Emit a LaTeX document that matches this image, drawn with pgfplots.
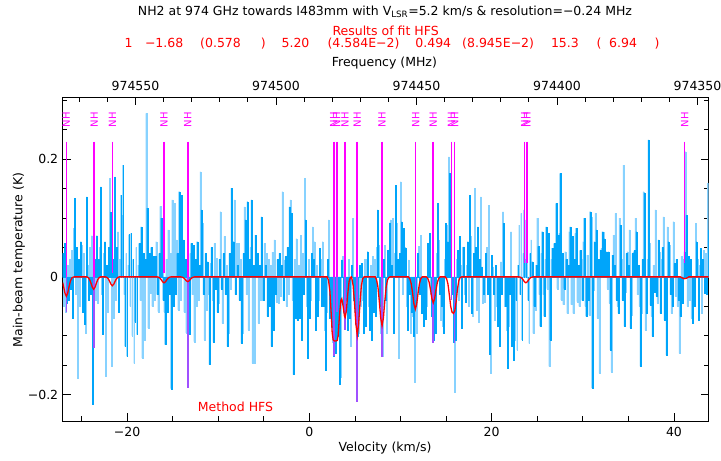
\documentclass[border=0pt]{standalone}
\usepackage{fontspec}
\setmainfont{DejaVu Sans}
\usepackage{pgfplots}
\pgfplotsset{compat=1.18}
\usepackage{pgfplotstable}
\definecolor{specdark}{RGB}{0,165,250}
\definecolor{speclight}{RGB}{135,210,255}
\definecolor{hfsmag}{RGB}{255,0,255}
\definecolor{hfspur}{RGB}{160,80,255}
\newcommand{\fs}{\fontsize{12.5bp}{15bp}\selectfont}
\newcommand{\fl}{\fontsize{10bp}{12bp}\selectfont}
% spectrum, channels of 0.11 km/s starting at -27.05 km/s
\pgfplotstableread[row sep=\\]{T\\
0.04\\ -0.05\\ 0.057\\ -0.06\\ -0.045\\ 0.02\\ -0.04\\ 0.03\\ -0.02\\ 0.045\\
-0.07\\ 0.083\\ 0.134\\ -0.03\\ 0.05\\ -0.172\\ 0.03\\ -0.05\\ 0.06\\ 0.054\\
-0.06\\ 0.04\\ -0.08\\ -0.096\\ 0.136\\ 0.02\\ -0.04\\ 0.05\\ -0.03\\ 0.07\\
-0.217\\ -0.076\\ 0.03\\ -0.04\\ 0.07\\ -0.045\\ 0.03\\ 0.05\\ 0.153\\ -0.03\\
-0.098\\ 0.04\\ 0.06\\ -0.169\\ 0.02\\ -0.06\\ 0.05\\ 0.168\\ 0.11\\ -0.152\\
0.03\\ -0.07\\ 0.17\\ -0.04\\ 0.05\\ 0.077\\ -0.06\\ 0.03\\ 0.139\\ 0.105\\
0.19\\ -0.03\\ -0.118\\ 0.04\\ -0.135\\ 0.02\\ 0.072\\ -0.05\\ 0.074\\ -0.1\\
0.03\\ -0.147\\ -0.076\\ 0.05\\ -0.098\\ 0.02\\ 0.057\\ -0.04\\ 0.085\\ -0.138\\
0.04\\ -0.108\\ 0.03\\ 0.278\\ 0.117\\ -0.087\\ 0.04\\ -0.028\\ 0.05\\ -0.05\\
0.035\\ -0.04\\ 0.035\\ 0.06\\ -0.03\\ -0.059\\ 0.04\\ 0.12\\ 0.1\\ 0.017\\
-0.04\\ -0.06\\ -0.115\\ 0.03\\ -0.059\\ 0.08\\ -0.03\\ 0.04\\ -0.19\\ 0.131\\
-0.05\\ 0.125\\ -0.03\\ 0.063\\ 0.04\\ -0.056\\ 0.145\\ -0.04\\ 0.139\\ 0.05\\
0.063\\ -0.06\\ 0.03\\ -0.095\\ 0.02\\ -0.05\\ -0.098\\ 0.04\\ 0.057\\ -0.03\\
0.054\\ -0.11\\ 0.03\\ -0.05\\ 0.06\\ -0.04\\ 0.02\\ 0.179\\ 0.114\\ 0.091\\
-0.03\\ -0.107\\ 0.04\\ -0.056\\ 0.026\\ -0.03\\ -0.149\\ 0.023\\ 0.05\\ -0.04\\
-0.11\\ 0.057\\ -0.02\\ 0.032\\ -0.06\\ -0.045\\ 0.03\\ 0.111\\ -0.02\\ -0.079\\
0.04\\ 0.069\\ -0.03\\ 0.02\\ -0.118\\ -0.096\\ 0.04\\ -0.02\\ 0.151\\ 0.06\\
0.06\\ 0.131\\ -0.03\\ 0.057\\ 0.02\\ 0.057\\ -0.04\\ 0.03\\ -0.113\\ -0.096\\
0.04\\ 0.119\\ 0.097\\ -0.03\\ 0.128\\ -0.09\\ 0.03\\ 0.05\\ 0.131\\ -0.147\\
0.02\\ -0.147\\ 0.071\\ 0.03\\ 0.04\\ -0.079\\ 0.02\\ -0.04\\ 0.102\\ -0.04\\
-0.039\\ 0.057\\ 0.02\\ 0.04\\ -0.067\\ 0.03\\ -0.05\\ 0.02\\ -0.118\\ 0.042\\
-0.09\\ 0.063\\ -0.03\\ -0.042\\ 0.03\\ -0.045\\ 0.04\\ -0.033\\ 0.02\\ 0.145\\
-0.04\\ 0.029\\ 0.035\\ -0.05\\ 0.05\\ -0.03\\ 0.119\\ 0.131\\ 0.108\\ -0.04\\
-0.166\\ 0.03\\ -0.07\\ 0.065\\ -0.073\\ 0.02\\ -0.07\\ 0.071\\ -0.107\\ 0.04\\
-0.03\\ 0.168\\ 0.097\\ -0.05\\ -0.138\\ 0.03\\ -0.07\\ -0.039\\ 0.04\\ 0.085\\
0.03\\ 0.06\\ -0.09\\ 0.02\\ -0.067\\ -0.04\\ 0.049\\ 0.03\\ -0.05\\ 0.06\\
-0.05\\ -0.09\\ -0.158\\ -0.06\\ 0.03\\ 0.097\\ -0.07\\ -0.05\\ -0.085\\ -0.11\\
-0.135\\ -0.06\\ -0.13\\ -0.08\\ -0.1\\ -0.06\\ -0.183\\ -0.17\\ 0.029\\ 0.035\\
-0.06\\ 0.043\\ -0.04\\ -0.06\\ -0.09\\ 0.03\\ -0.07\\ -0.118\\ 0.02\\ 0.1\\
-0.039\\ -0.06\\ -0.08\\ -0.141\\ -0.1\\ -0.096\\ 0.02\\ -0.05\\ 0.023\\ -0.04\\
-0.096\\ 0.03\\ -0.084\\ 0.03\\ 0.043\\ -0.05\\ -0.09\\ 0.02\\ -0.107\\ 0.035\\
-0.06\\ 0.03\\ -0.067\\ 0.05\\ 0.114\\ 0.054\\ -0.05\\ -0.096\\ -0.08\\ -0.135\\
0.03\\ 0.054\\ -0.04\\ -0.096\\ 0.045\\ 0.046\\ 0.092\\ 0.097\\ 0.02\\ 0.1\\
-0.096\\ 0.04\\ 0.156\\ 0.092\\ 0.03\\ -0.138\\ 0.04\\ 0.162\\ 0.094\\ -0.03\\
0.083\\ 0.05\\ 0.049\\ -0.05\\ -0.09\\ 0.029\\ -0.03\\ -0.096\\ -0.06\\ -0.067\\
-0.1\\ -0.178\\ -0.05\\ -0.096\\ 0.04\\ 0.052\\ -0.03\\ 0.071\\ -0.062\\ -0.04\\
-0.084\\ -0.03\\ -0.072\\ -0.05\\ 0.057\\ 0.02\\ 0.074\\ -0.03\\ -0.067\\ -0.04\\
-0.107\\ -0.02\\ -0.096\\ 0.04\\ 0.125\\ 0.062\\ -0.03\\ -0.073\\ -0.05\\ -0.084\\
-0.096\\ 0.03\\ 0.091\\ 0.088\\ 0.06\\ 0.204\\ 0.176\\ 0.085\\ -0.03\\ -0.028\\
-0.11\\ -0.195\\ -0.107\\ 0.03\\ 0.045\\ -0.04\\ 0.069\\ 0.02\\ -0.087\\ 0.05\\
0.051\\ -0.03\\ -0.042\\ 0.02\\ 0.06\\ -0.05\\ 0.139\\ 0.069\\ -0.062\\ -0.067\\
0.04\\ 0.151\\ 0.05\\ -0.056\\ 0.085\\ -0.076\\ 0.03\\ 0.136\\ 0.017\\ -0.045\\
-0.03\\ -0.042\\ 0.04\\ 0.05\\ -0.03\\ 0.122\\ -0.131\\ -0.164\\ 0.037\\ 0.017\\
-0.03\\ -0.073\\ 0.02\\ -0.05\\ -0.084\\ -0.04\\ -0.118\\ 0.026\\ -0.03\\ 0.111\\
0.091\\ -0.05\\ -0.05\\ -0.09\\ -0.155\\ -0.084\\ -0.03\\ 0.077\\ -0.118\\ -0.06\\
-0.141\\ -0.108\\ -0.04\\ -0.124\\ 0.02\\ 0.088\\ -0.03\\ 0.108\\ -0.107\\ 0.04\\
0.114\\ 0.03\\ 0.097\\ 0.091\\ -0.04\\ -0.113\\ 0.04\\ 0.063\\ 0.026\\ -0.096\\
-0.05\\ -0.056\\ 0.02\\ 0.1\\ 0.052\\ -0.03\\ -0.084\\ 0.04\\ 0.077\\ -0.03\\
-0.067\\ 0.03\\ 0.085\\ -0.02\\ 0.074\\ -0.152\\ -0.107\\ 0.03\\ 0.049\\ 0.02\\
0.057\\ 0.049\\ 0.125\\ -0.02\\ 0.071\\ 0.074\\ 0.176\\ -0.039\\ 0.04\\ -0.047\\
-0.02\\ 0.043\\ 0.03\\ -0.062\\ 0.02\\ 0.077\\ 0.085\\ -0.047\\ 0.069\\ -0.062\\
0.03\\ 0.074\\ 0.083\\ -0.042\\ 0.02\\ -0.05\\ 0.045\\ 0.03\\ -0.04\\ 0.06\\
0.1\\ -0.05\\ -0.067\\ 0.037\\ -0.04\\ -0.065\\ 0.111\\ 0.102\\ -0.189\\ -0.022\\
0.06\\ 0.108\\ 0.08\\ -0.07\\ 0.03\\ -0.164\\ 0.046\\ 0.049\\ 0.077\\ 0.077\\
0.065\\ 0.03\\ 0.043\\ -0.02\\ 0.043\\ -0.045\\ -0.124\\ -0.161\\ 0.037\\ 0.071\\
0.02\\ 0.108\\ -0.039\\ -0.05\\ -0.062\\ 0.1\\ 0.088\\ 0.03\\ -0.04\\ 0.19\\
-0.084\\ -0.025\\ 0.04\\ 0.043\\ 0.02\\ 0.08\\ -0.087\\ -0.065\\ 0.04\\ 0.043\\
0.045\\ 0.1\\ 0.077\\ -0.03\\ 0.02\\ -0.05\\ -0.152\\ -0.062\\ 0.03\\ 0.145\\
0.142\\ -0.09\\ -0.062\\ 0.03\\ 0.233\\ 0.057\\ -0.048\\ -0.067\\ -0.101\\ 0.02\\
-0.025\\ 0.114\\ -0.033\\ -0.045\\ 0.063\\ 0.043\\ -0.062\\ 0.03\\ 0.05\\ 0.102\\
-0.073\\ -0.04\\ -0.133\\ 0.085\\ 0.06\\ 0.054\\ -0.03\\ -0.062\\ -0.05\\ 0.094\\
0.023\\ -0.033\\ 0.03\\ -0.05\\ -0.04\\ -0.13\\ -0.067\\ 0.035\\ -0.045\\ 0.03\\
0.043\\ 0.213\\ 0.105\\ -0.05\\ 0.035\\ -0.039\\ 0.03\\ -0.07\\ -0.079\\ -0.05\\
-0.05\\ 0.091\\ 0.06\\ 0.03\\ -0.073\\ 0.02\\ 0.049\\ -0.062\\ 0.03\\ 0.045\\
-0.028\\ 0.04\\ -0.03\\ 0.159\\ 0.08\\
}\spec

\begin{document}
\begin{tikzpicture}
\useasboundingbox (-62.7bp,-40bp) rectangle (658.3bp,421bp);
\begin{axis}[at={(0bp,0bp)}, anchor=south west, scale only axis,
  width=646bp, height=323.5bp,
  xmin=-27.07, xmax=43.81, ymin=-0.245, ymax=0.305,
  tick align=inside, xtick pos=left, ytick pos=both,
  xtick={-20,0,20,40}, xticklabels={−20,0,20,40},
  minor xtick={-25,-15,-10,-5,5,10,15,25,30,35},
  ytick={-0.2,0,0.2}, yticklabels={−0.2,0,0.2},
  minor ytick={-0.15,-0.1,-0.05,0.05,0.1,0.15,0.25,0.3},
  major tick length=8bp, minor tick length=4.5bp,
  every tick/.style={black, line width=0.9bp},
  axis line style={line width=1bp},
  font=\fs,
  xticklabel style={yshift=-3bp},
  yticklabel style={xshift=-1bp},
  clip=true]
% odd channels (lighter shade)
\addplot[ybar, bar width=0.105, bar shift=0pt, fill=speclight, draw=speclight, line width=0.1bp, mark=none,
  x filter/.code={\ifodd\coordindex\else\def\pgfmathresult{}\fi}]
  table[x expr=\coordindex*0.11-27.05, y=T] {\spec};
% even channels (stronger shade)
\addplot[ybar, bar width=0.105, bar shift=0pt, fill=specdark, draw=specdark, line width=0.1bp, mark=none,
  x filter/.code={\ifodd\coordindex\def\pgfmathresult{}\fi}]
  table[x expr=\coordindex*0.11-27.05, y=T] {\spec};
\addplot[hfsmag, line width=1.6bp, unbounded coords=jump] coordinates {
 (-26.67,0.23) (-26.67,0) (-26.67,nan)
 (-23.62,0.23) (-23.62,0) (-23.62,nan)
 (-21.62,0.23) (-21.62,0.006) (-21.62,nan)
 (-15.95,0.23) (-15.95,0.006) (-15.95,nan)
 (-13.35,0.23) (-13.35,0) (-13.35,nan)
 (2.67,0.23) (2.67,0) (2.67,nan)
 (3.00,0.23) (3.00,0) (3.00,nan)
 (3.91,0.23) (3.91,0) (3.91,nan)
 (5.25,0.23) (5.25,0) (5.25,nan)
 (7.97,0.23) (7.97,0) (7.97,nan)
 (11.66,0.23) (11.66,0) (11.66,nan)
 (13.59,0.23) (13.59,0) (13.59,nan)
 (15.58,0.23) (15.58,0) (15.58,nan)
 (15.94,0.23) (15.94,0) (15.94,nan)
 (23.62,0.23) (23.62,0.023) (23.62,nan)
 (23.87,0.23) (23.87,0.023) (23.87,nan)
 (41.17,0.23) (41.17,0.023)
};
\addplot[hfspur, line width=1.6bp, unbounded coords=jump] coordinates {
 (-26.67,0) (-26.67,-0.059) (-26.67,nan)
 (-23.62,0) (-23.62,-0.121) (-23.62,nan)
 (-13.35,0) (-13.35,-0.189) (-13.35,nan)
 (2.67,0) (2.67,-0.135) (2.67,nan)
 (3.00,0) (3.00,-0.06) (3.00,nan)
 (3.91,0) (3.91,-0.09) (3.91,nan)
 (5.25,0) (5.25,-0.212) (5.25,nan)
 (7.97,0) (7.97,-0.136) (7.97,nan)
 (11.66,0) (11.66,-0.04) (11.66,nan)
 (13.59,0) (13.59,-0.113) (13.59,nan)
 (15.58,0) (15.58,-0.04) (15.58,nan)
 (15.94,0) (15.94,-0.113)
};
\addplot[red, line width=1.3bp, mark=none] coordinates {
 (-27.07,-0.0096) (-26.97,-0.0166) (-26.82,-0.0277) (-26.67,-0.033) (-26.52,-0.0277) (-26.37,-0.0165) (-26.22,-0.0069) (-26.07,-0.002) (-25.92,-0.0004) (-25.8,0)
 (-24.42,0) (-24.27,-0.0013) (-24.12,-0.0044) (-23.97,-0.0105) (-23.82,-0.0176) (-23.67,-0.021) (-23.52,-0.0176) (-23.37,-0.0105) (-23.22,-0.0044) (-23.07,-0.0013) (-22.92,0)
 (-22.37,0) (-22.22,-0.0009) (-22.07,-0.0032) (-21.92,-0.0075) (-21.77,-0.0126) (-21.62,-0.015) (-21.47,-0.0126) (-21.32,-0.0075) (-21.17,-0.0032) (-21.02,-0.0009) (-20.87,0)
 (-16.7,0) (-16.55,-0.0006) (-16.4,-0.0021) (-16.25,-0.005) (-16.1,-0.0084) (-15.95,-0.01) (-15.8,-0.0084) (-15.65,-0.005) (-15.5,-0.0021) (-15.35,-0.0006) (-15.2,0)
 (-14.1,0) (-13.95,-0.0005) (-13.8,-0.0017) (-13.65,-0.004) (-13.5,-0.0067) (-13.35,-0.008) (-13.2,-0.0067) (-13.05,-0.004) (-12.9,-0.0017) (-12.75,-0.0005) (-12.6,0)
 (1.95,0) (2.1,-0.006) (2.25,-0.025) (2.4,-0.065) (2.5,-0.095) (2.6,-0.107) (2.75,-0.109) (2.9,-0.109) (3.05,-0.108) (3.15,-0.1) (3.3,-0.065) (3.45,-0.04) (3.55,-0.037) (3.7,-0.05) (3.85,-0.067) (3.92,-0.069) (4.05,-0.058) (4.2,-0.03) (4.35,-0.008) (4.5,-0.001) (4.6,0)
 (4.65,-0.002) (4.8,-0.015) (4.95,-0.045) (5.1,-0.08) (5.25,-0.099) (5.4,-0.08) (5.55,-0.045) (5.7,-0.015) (5.85,-0.003) (6.0,0)
 (7.22,0) (7.37,-0.005) (7.52,-0.0174) (7.67,-0.0415) (7.82,-0.0697) (7.97,-0.083) (8.12,-0.0697) (8.27,-0.0415) (8.42,-0.0174) (8.57,-0.005) (8.72,-0.0011) (8.85,0)
 (10.87,0) (11.02,-0.0033) (11.17,-0.0116) (11.32,-0.0275) (11.47,-0.0462) (11.62,-0.055) (11.77,-0.0462) (11.92,-0.0275) (12.07,-0.0116) (12.22,-0.0033) (12.37,0)
 (12.84,0) (12.99,-0.0026) (13.14,-0.0092) (13.29,-0.022) (13.44,-0.037) (13.59,-0.044) (13.74,-0.037) (13.89,-0.022) (14.04,-0.0092) (14.19,-0.0026) (14.34,0)
 (14.9,0) (15.05,-0.003) (15.2,-0.012) (15.35,-0.03) (15.5,-0.05) (15.65,-0.06) (15.8,-0.062) (15.95,-0.058) (16.1,-0.042) (16.25,-0.02) (16.4,-0.006) (16.55,-0.001) (16.7,0)
 (23.0,0) (23.15,-0.0006) (23.3,-0.0021) (23.45,-0.005) (23.6,-0.0084) (23.75,-0.01) (23.9,-0.0084) (24.05,-0.005) (24.2,-0.0021) (24.35,-0.0006) (24.5,0)
 (40.72,0) (40.87,-0.0015) (41.02,-0.0025) (41.17,-0.003) (41.32,-0.0025) (41.47,-0.0015) (41.62,0)
 (43.81,0)
};
\foreach \v in {-26.67,-23.62,-21.62,-15.95,-13.35,2.67,3.00,3.91,5.25,7.97,11.66,13.59,15.58,15.94,23.62,23.87,41.17}{
  \edef\temp{\noexpand\node[rotate=90, text=hfsmag, font=\noexpand\fl, inner sep=0pt] at (axis cs:\v,0.267) {NH};}
  \temp
}
\end{axis}
\begin{axis}[at={(0bp,0bp)}, anchor=south west, scale only axis,
  width=646bp, height=323.5bp,
  xmin=346.0, xmax=575.9, x dir=reverse, ymin=0, ymax=1,
  axis x line*=top, axis y line=none,
  xtick={350,400,450,500,550},
  xticklabels={974350,974400,974450,974500,974550},
  minor xtick={360,370,380,390,410,420,430,440,460,470,480,490,510,520,530,540,560,570},
  tick align=inside, major tick length=8bp, minor tick length=4.5bp,
  every tick/.style={black, line width=0.9bp},
  axis line style={line width=1bp},
  font=\fs, xticklabel style={yshift=3bp}]
\addplot[draw=none] coordinates {(400,0.5)};
\end{axis}
\node[font=\fs] at (322.3bp,409.3bp) {NH2 at 974 GHz towards I483mm with V\textsubscript{LSR}=5.2 km/s \& resolution=−0.24 MHz};
\node[font=\fs, text=red] at (322.9bp,390bp) {Results of fit HFS};
\begin{scope}[every node/.style={font=\fs, text=red, anchor=west, inner sep=0pt}]
\node at (61.6bp,377.7bp) {1};
\node at (82.1bp,377.7bp) {−1.68};
\node at (137.3bp,377.7bp) {(0.578};
\node at (198bp,377.7bp) {)};
\node at (218.7bp,377.7bp) {5.20};
\node at (264.7bp,377.7bp) {(4.584E−2)};
\node at (352.5bp,377.7bp) {0.494};
\node at (399.3bp,377.7bp) {(8.945E−2)};
\node at (488.1bp,377.7bp) {15.3};
\node at (533.6bp,377.7bp) {(};
\node at (546.3bp,377.7bp) {6.94};
\node at (591.6bp,377.7bp) {)};
\node at (135bp,13.7bp) {Method HFS};
\end{scope}
\node[font=\fs] at (321.7bp,357.7bp) {Frequency (MHz)};
\node[font=\fs] at (322.3bp,-27bp) {Velocity (km/s)};
\node[font=\fs, rotate=90] at (-43.7bp,161bp) {Main-beam temperature (K)};
\end{tikzpicture}
\end{document}
